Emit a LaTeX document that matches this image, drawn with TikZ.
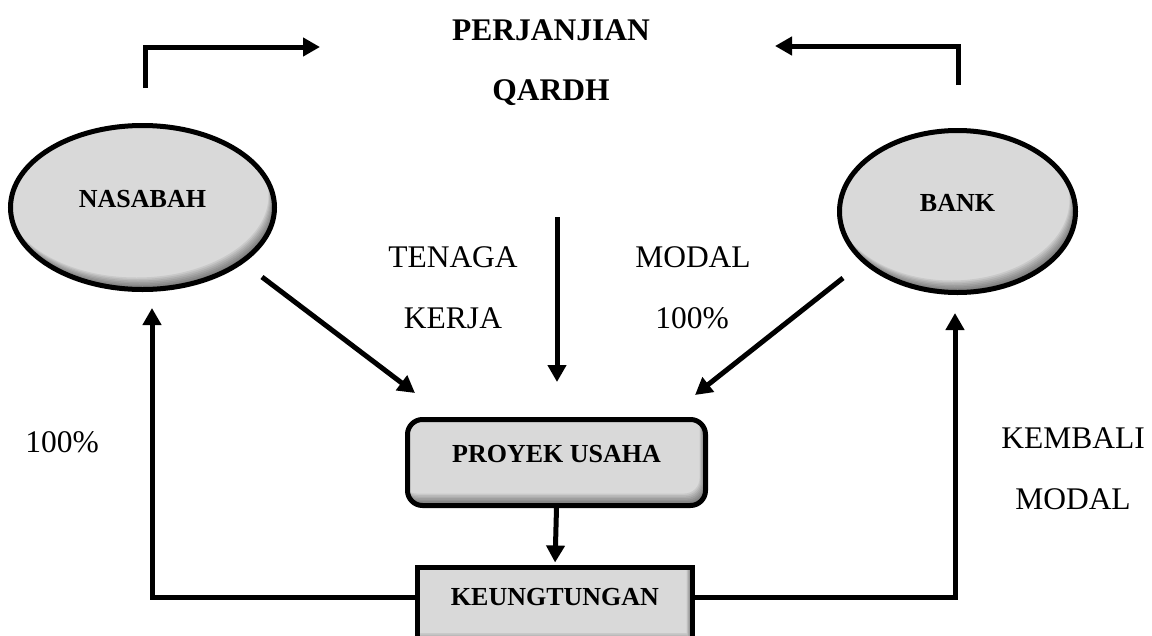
\documentclass[tikz,border=0pt]{standalone}
\usepackage{fontspec}
\setmainfont{Liberation Serif}
\usetikzlibrary{arrows.meta,shapes.geometric,calc}
\definecolor{boxgray}{RGB}{217,217,217}
\tikzset{
 conn/.style={line width=5pt,-{Triangle[length=17pt,width=18pt]}},
 shapebox/.style={draw,line width=5pt,fill=boxgray,inner sep=0pt,font=\fontsize{26}{30}\selectfont\bfseries},
 oval/.style={shapebox,ellipse},
 rbox/.style={shapebox,rectangle,rounded corners=15pt},
 sbox/.style={shapebox,rectangle},
 txt/.style={font=\fontsize{31.5}{36}\selectfont,anchor=base,inner sep=0pt},
 btxt/.style={txt,font=\fontsize{31.5}{36}\selectfont\bfseries},
}
\newcommand\up[1]{\raisebox{9pt}[\height][0pt]{#1}}
\newcommand\ellshadow[4]{%
 \begin{scope}
 \clip (#1,#2) ellipse [x radius=#3pt, y radius=#4pt];
 \foreach \dd in {1.5,3,...,12}{
  \fill[black,opacity=0.07,even odd rule] (#1-80-#3,#2-80-#4) rectangle (#1+80+#3,#2+80+#4)
    (#1-0.5*\dd,#2-\dd) ellipse [x radius=#3pt, y radius=#4pt];
 }
 \end{scope}}
\newcommand\rectshadow[5]{%
 \begin{scope}
 \clip[rounded corners=#5] (#1,#2) rectangle (#3,#4);
 \foreach \dd in {1.5,3,...,12}{
  \fill[black,opacity=0.07,even odd rule] (#1-50,#2-50) rectangle (#3+50,#4+50)
    [rounded corners=#5] (#1-0.5*\dd,#2-\dd) rectangle (#3-0.5*\dd,#4-\dd);
 }
 \end{scope}}
\begin{document}
\begin{tikzpicture}[x=1pt,y=-1pt]
\useasboundingbox (0,0) rectangle (1152,635);
\clip (0,0) rectangle (1152,635);
% shapes
\node[oval,minimum width=264pt,minimum height=164pt] (nas) at (142.5,207.5) {\up{NASABAH}};
\node[oval,minimum width=236pt,minimum height=162pt] (bank) at (957.5,211.5) {\up{BANK}};
\node[rbox,minimum width=298pt,minimum height=86pt] (pro) at (556.5,462.5) {\up{PROYEK USAHA}};
\node[sbox,minimum width=275pt,minimum height=77.5pt] (keu) at (555,606.25) {\up{KEUNGTUNGAN}};
\ellshadow{142.5}{207.5}{132}{82}
\ellshadow{957.5}{211.5}{118}{81}
\rectshadow{407.5}{419.5}{705.5}{505.5}{15pt}
\rectshadow{417.5}{567.5}{692.5}{645}{0pt}
% texts
\node[btxt] (per) at (551,40) {PERJANJIAN};
\node[btxt] (qar) at (551,100) {QARDH};
\node[txt] (tena) at (453,267) {TENAGA};
\node[txt] (kerj) at (453,328) {KERJA};
\node[txt] (moda) at (693,267) {MODAL};
\node[txt] (pcta) at (692,328) {100\%};
\node[txt] (pctb) at (62,452) {100\%};
\node[txt] (kemb) at (1073,448) {KEMBALI};
\node[txt] (modb) at (1073,509) {MODAL};
% coordinates
\coordinate (tla) at (145,88);
\coordinate (tlb) at (320,47);
\coordinate (tra) at (958,85);
\coordinate (trb) at (775,46);
\coordinate (na) at (262,277);
\coordinate (nb) at (415,393);
\coordinate (ba) at (843,278);
\coordinate (bb) at (695,395);
\coordinate (ca) at (557,217);
\coordinate (cb) at (557,382);
\coordinate (lb) at (152,597);
\coordinate (lt) at (152,308);
\coordinate (rb) at (955,597);
\coordinate (rt) at (955,313);
% connectors
\draw[conn] (tla) |- (tlb);
\draw[conn] (tra) |- (trb);
\draw[conn] (na) -- (nb);
\draw[conn] (ba) -- (bb);
\draw[conn] (ca) -- (cb);
\draw[conn,shorten >=2.5pt] (pro.south) -- (keu.north);
\draw[conn] (lb -| keu.west) -- (lb) -- (lt);
\draw[conn] (rb -| keu.east) -- (rb) -- (rt);
\end{tikzpicture}
\end{document}
